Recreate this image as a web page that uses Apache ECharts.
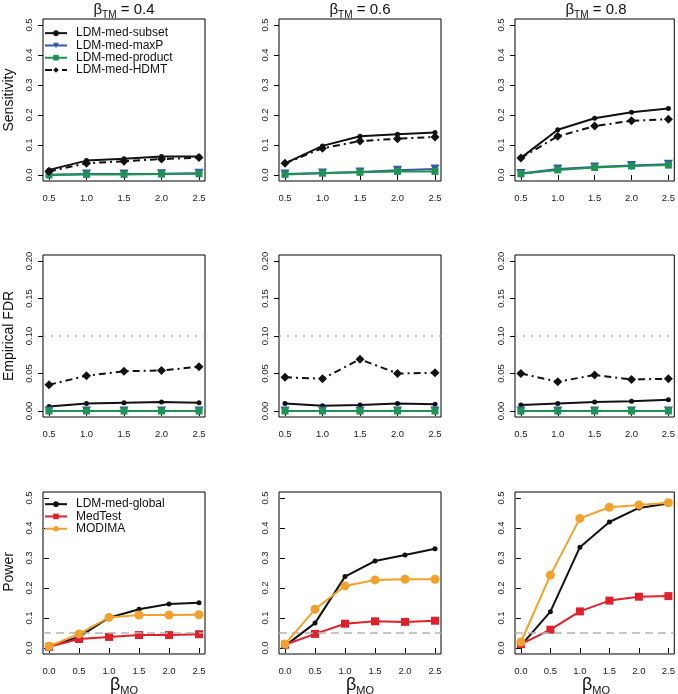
<!DOCTYPE html>
<html><head><meta charset="utf-8">
<script src="https://cdn.jsdelivr.net/npm/echarts@6/dist/echarts.min.js"></script>
<style>html,body{margin:0;padding:0;background:#fff}#c{width:678px;height:694px}</style>
</head><body><div id="c"></div>
<script>
// ---------- data ----------
const xSens = [0.5, 1.0, 1.5, 2.0, 2.5];
const xPow = [0.0, 0.5, 1.0, 1.5, 2.0, 2.5];
const panelTitles = ['0.4', '0.6', '0.8'];
const sensTicks = [0, 0.1, 0.2, 0.3, 0.4, 0.5];
const fdrTicks = [0, 0.05, 0.10, 0.15, 0.20];
const powTicks = [0, 0.1, 0.2, 0.3, 0.4, 0.5];
const sensXTicks = [0.5, 1.0, 1.5, 2.0, 2.5];
const powXTicks = [0.0, 0.5, 1.0, 1.5, 2.0, 2.5];

// Sensitivity (row 1)
const sensSubset04 = [0.017, 0.048, 0.054, 0.062, 0.062];
const sensMaxP04 = [0.001, 0.003, 0.003, 0.004, 0.006];
const sensProduct04 = [0.000, 0.002, 0.002, 0.003, 0.004];
const sensHDMT04 = [0.012, 0.039, 0.046, 0.053, 0.058];
const sensSubset06 = [0.039, 0.097, 0.129, 0.136, 0.142];
const sensMaxP06 = [0.003, 0.007, 0.010, 0.016, 0.020];
const sensProduct06 = [0.002, 0.006, 0.009, 0.012, 0.012];
const sensHDMT06 = [0.039, 0.089, 0.113, 0.121, 0.127];
const sensSubset08 = [0.057, 0.151, 0.189, 0.209, 0.222];
const sensMaxP08 = [0.005, 0.020, 0.027, 0.032, 0.036];
const sensProduct08 = [0.004, 0.017, 0.025, 0.030, 0.033];
const sensHDMT08 = [0.057, 0.129, 0.163, 0.181, 0.186];

// Empirical FDR (row 2)
const fdrSubset04 = [0.006, 0.010, 0.011, 0.012, 0.011];
const fdrMaxP04 = [0, 0, 0, 0, 0];
const fdrProduct04 = [0, 0, 0, 0, 0];
const fdrHDMT04 = [0.035, 0.047, 0.053, 0.054, 0.059];
const fdrSubset06 = [0.010, 0.007, 0.008, 0.010, 0.009];
const fdrMaxP06 = [0, 0, 0, 0, 0];
const fdrProduct06 = [0, 0, 0, 0, 0];
const fdrHDMT06 = [0.045, 0.043, 0.069, 0.050, 0.051];
const fdrSubset08 = [0.008, 0.010, 0.012, 0.013, 0.015];
const fdrMaxP08 = [0, 0, 0, 0, 0];
const fdrProduct08 = [0, 0, 0, 0, 0];
const fdrHDMT08 = [0.050, 0.039, 0.048, 0.042, 0.043];
const fdrLevel = 0.10;

// Power (row 3)
const powGlobal04 = [0.006, 0.037, 0.101, 0.129, 0.147, 0.151];
const powMedTest04 = [0.004, 0.030, 0.037, 0.043, 0.043, 0.046];
const powMODIMA04 = [0.006, 0.047, 0.102, 0.110, 0.110, 0.111];
const powGlobal06 = [0.007, 0.083, 0.238, 0.290, 0.310, 0.331];
const powMedTest06 = [0.011, 0.047, 0.081, 0.089, 0.087, 0.091];
const powMODIMA06 = [0.013, 0.129, 0.207, 0.227, 0.229, 0.229];
const powGlobal08 = [0.008, 0.121, 0.336, 0.420, 0.467, 0.482];
const powMedTest08 = [0.013, 0.061, 0.122, 0.158, 0.171, 0.173];
const powMODIMA08 = [0.020, 0.243, 0.432, 0.469, 0.477, 0.484];
const alphaLevel = 0.05;

// ---------- styling ----------
const FONT = '"Liberation Sans", Arial, Helvetica, sans-serif';
const BLACK = '#111111', BLUE = '#3359A8', GREEN = '#1F9255', RED = '#E0202B', ORANGE = '#F2A22C';
const colLeft = [43, 279, 515];
const rowTop = [19, 255, 492];
const W = 162, H = 162;

const pair = (xs, ys) => xs.map((x, i) => [x, ys[i]]);

const grids = [], xAxes = [], yAxes = [], series = [];
const rows = [
  {kind: 'sens', xs: xSens, xr: [0.42, 2.58], yr: [-0.02, 0.52], yt: sensTicks, xt: sensXTicks, yd: 1},
  {kind: 'fdr', xs: xSens, xr: [0.42, 2.58], yr: [-0.008, 0.208], yt: fdrTicks, xt: sensXTicks, yd: 2},
  {kind: 'pow', xs: xPow, xr: [-0.1, 2.6], yr: [-0.02, 0.52], yt: powTicks, xt: powXTicks, yd: 1}
];
const rowData = {
  sens: [[sensSubset04, sensMaxP04, sensProduct04, sensHDMT04],
         [sensSubset06, sensMaxP06, sensProduct06, sensHDMT06],
         [sensSubset08, sensMaxP08, sensProduct08, sensHDMT08]],
  fdr: [[fdrSubset04, fdrMaxP04, fdrProduct04, fdrHDMT04],
        [fdrSubset06, fdrMaxP06, fdrProduct06, fdrHDMT06],
        [fdrSubset08, fdrMaxP08, fdrProduct08, fdrHDMT08]],
  pow: [[powGlobal04, powMedTest04, powMODIMA04],
        [powGlobal06, powMedTest06, powMODIMA06],
        [powGlobal08, powMedTest08, powMODIMA08]]
};
const sensNames = ['LDM-med-subset', 'LDM-med-maxP', 'LDM-med-product', 'LDM-med-HDMT'];
const powNames = ['LDM-med-global', 'MedTest', 'MODIMA'];
const sensStyles = [
  {color: BLACK, symbol: 'circle', size: 5, type: 'solid'},
  {color: BLUE, symbol: 'triangle', size: 9, type: 'solid', rotate: 180},
  {color: GREEN, symbol: 'rect', size: 7, type: 'solid'},
  {color: BLACK, symbol: 'diamond', size: 9, type: [7, 4, 2, 4]}
];
const powStyles = [
  {color: BLACK, symbol: 'circle', size: 5, type: 'solid'},
  {color: RED, symbol: 'rect', size: 8, type: 'solid'},
  {color: ORANGE, symbol: 'circle', size: 9, type: 'solid'}
];

let gi = 0;
rows.forEach((row, r) => {
  for (let c = 0; c < 3; c++) {
    grids.push({left: colLeft[c], top: rowTop[r], width: W, height: H,
      show: true, borderColor: '#000', borderWidth: 1, backgroundColor: 'transparent'});
    xAxes.push({type: 'value', gridIndex: gi, min: row.xr[0], max: row.xr[1],
      axisLine: {show: false}, splitLine: {show: false},
      axisTick: {show: true, inside: false, length: 5, customValues: row.xt, lineStyle: {color: '#000'}},
      axisLabel: {customValues: row.xt, formatter: v => v.toFixed(1), fontSize: 9.5, color: '#222',
        fontFamily: FONT, margin: 12, hideOverlap: false}});
    yAxes.push({type: 'value', gridIndex: gi, min: row.yr[0], max: row.yr[1],
      axisLine: {show: false}, splitLine: {show: false},
      axisTick: {show: true, inside: false, length: 5, customValues: row.yt, lineStyle: {color: '#000'}},
      axisLabel: {customValues: row.yt, formatter: v => v.toFixed(row.yd), fontSize: 9.5, color: '#222',
        fontFamily: FONT, rotate: 90, margin: 9, align: 'center', verticalAlign: 'bottom', hideOverlap: false}});
    const names = row.kind === 'pow' ? powNames : sensNames;
    const styles = row.kind === 'pow' ? powStyles : sensStyles;
    rowData[row.kind][c].forEach((ys, k) => {
      const st = styles[k];
      const s = {
        name: names[k], type: 'line', xAxisIndex: gi, yAxisIndex: gi,
        data: pair(row.xs, ys), symbol: st.symbol, symbolSize: st.size,
        symbolRotate: st.rotate || 0, showSymbol: true, animation: false,
        itemStyle: {color: st.color},
        lineStyle: {color: st.color, width: 2, type: st.type},
        z: 3 + k, silent: true
      };
      if (k === 0 && row.kind === 'fdr') {
        s.markLine = {silent: true, symbol: 'none', label: {show: false},
          lineStyle: {color: '#b0b0b0', type: [2, 6], width: 1.5}, data: [{yAxis: fdrLevel}]};
      }
      if (k === 0 && row.kind === 'pow') {
        s.markLine = {silent: true, symbol: 'none', label: {show: false},
          lineStyle: {color: '#b4b4b4', type: [8, 5], width: 1.5}, data: [{yAxis: alphaLevel}]};
      }
      series.push(s);
    });
    gi++;
  }
});

const graphics = [];
panelTitles.forEach((t, c) => {
  graphics.push({type: 'text', x: colLeft[c] + W / 2, y: 10, style: {
    text: '{a|β}{s|TM}{a| = ' + t + '}', align: 'center', verticalAlign: 'middle', fill: '#111',
    rich: {a: {fontSize: 15, fontFamily: FONT, lineHeight: 20, fill: '#111'},
           s: {fontSize: 10, fontFamily: FONT, lineHeight: 10, verticalAlign: 'bottom', fill: '#111'}}}});
  graphics.push({type: 'text', x: colLeft[c] + W / 2, y: 685, style: {
    text: '{a|β}{s|MO}', align: 'center', verticalAlign: 'middle', fill: '#111',
    rich: {a: {fontSize: 18, fontFamily: FONT, lineHeight: 22, fill: '#111'},
           s: {fontSize: 11, fontFamily: FONT, lineHeight: 14, verticalAlign: 'bottom', fill: '#111'}}}});
});
[['Sensitivity', 100], ['Empirical FDR', 336], ['Power', 572]].forEach(([t, y]) => {
  graphics.push({type: 'text', x: 9, y: y, rotation: Math.PI / 2, style: {
    text: t, align: 'center', verticalAlign: 'middle', fontSize: 14, fontFamily: FONT, fill: '#111'}});
});

const legendCommon = {orient: 'vertical', itemWidth: 22, itemHeight: 7, itemGap: 0,
  textStyle: {fontSize: 12, fontFamily: FONT, color: '#111', padding: [0, 0, 0, 4], lineHeight: 12.3},
  selectedMode: false, backgroundColor: 'transparent', padding: 0};
const option = {
  backgroundColor: '#fff',
  animation: false,
  grid: grids, xAxis: xAxes, yAxis: yAxes, series: series,
  legend: [
    Object.assign({}, legendCommon, {left: 44, top: 27, data: sensNames}),
    Object.assign({}, legendCommon, {left: 44, top: 498, data: powNames})
  ],
  graphic: graphics
};
const chart = echarts.init(document.getElementById('c'), null, {renderer: 'canvas'});
chart.setOption(option);
</script></body></html>
